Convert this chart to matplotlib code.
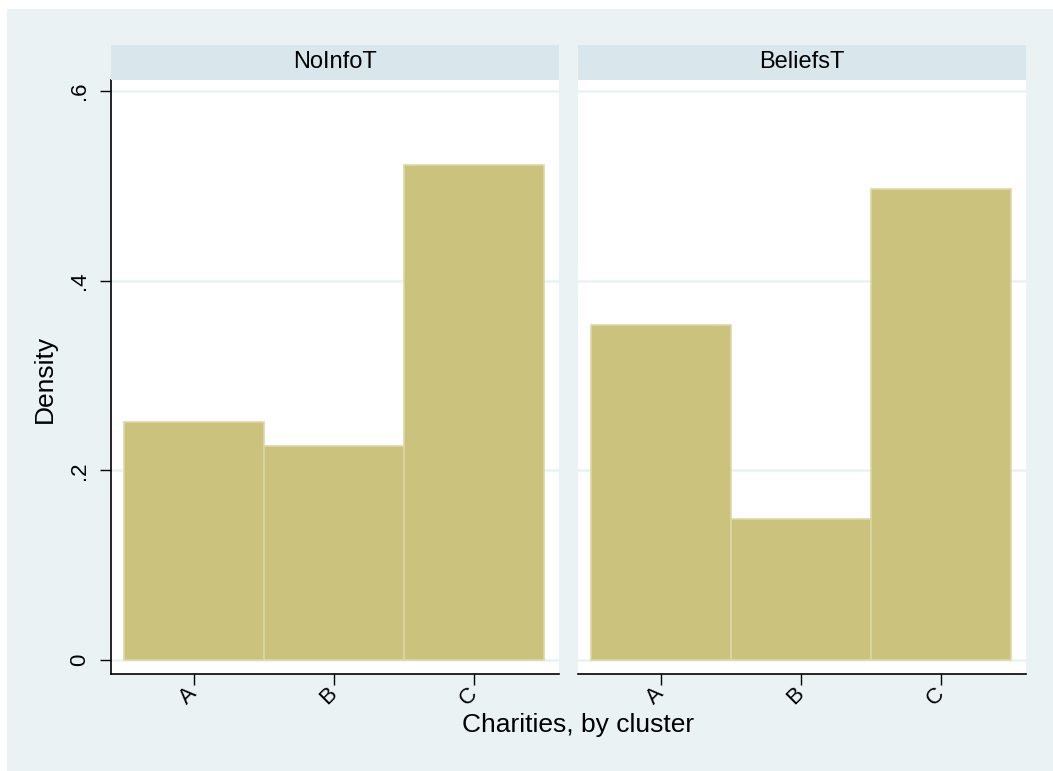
import matplotlib
matplotlib.use('Agg')
import matplotlib.pyplot as plt
from matplotlib.patches import Rectangle

plt.rcParams['font.family'] = ['Liberation Sans', 'DejaVu Sans']

panels = ['NoInfoT', 'BeliefsT']
clusters = ['A', 'B', 'C']
noinfo_density = [0.251, 0.226, 0.522]
beliefs_density = [0.353, 0.149, 0.497]
yticks = [0, 0.2, 0.4, 0.6]
ytick_labels = ['0', '.2', '.4', '.6']

bg_col = '#EAF2F3'
strip_col = '#D9E6EB'
bar_col = '#CBC27E'
bar_edge = '#DDD7A8'
grid_col = '#EAF2F3'

W, H = 1053, 771
fig = plt.figure(figsize=(W / 100, H / 100), dpi=100, facecolor='white')
fig.patches.append(Rectangle((7 / W, 0), 1 - 7 / W, (H - 9) / H, transform=fig.transFigure,
                             facecolor=bg_col, edgecolor='none', zorder=-10))

lefts = [111, 578]
pw = 448
ax_top, ax_bot = 80, 674
x = [1, 2, 3]

for i, (name, vals) in enumerate(zip(panels, [noinfo_density, beliefs_density])):
    l = lefts[i]
    ax = fig.add_axes([l / W, (H - ax_bot) / H, pw / W, (ax_bot - ax_top) / H])
    ax.set_facecolor('white')
    ax.bar(x, vals, width=1.0, color=bar_col, edgecolor=bar_edge, linewidth=1.2, zorder=3)
    ax.set_xlim(0.407, 3.607)
    ax.set_ylim(-0.0148, 0.6116)
    for yv in yticks:
        ax.axhline(yv, color=grid_col, linewidth=1.8, zorder=1)
    ax.set_yticks(yticks)
    ax.set_xticks(x)
    ax.set_xticklabels(clusters, rotation=45, ha='right', va='center', rotation_mode='anchor', fontsize=16)
    ax.tick_params(axis='x', length=8, width=1, pad=4, colors='black')
    for sp in ['top', 'right']:
        ax.spines[sp].set_visible(False)
    ax.spines['bottom'].set_linewidth(1.2)
    if i == 0:
        ax.set_yticklabels(ytick_labels, rotation=90, va='center', fontsize=16)
        ax.tick_params(axis='y', length=8, width=1, pad=7)
        ax.spines['left'].set_linewidth(1.2)
    else:
        ax.spines['left'].set_visible(False)
        ax.tick_params(axis='y', left=False, labelleft=False)
    # panel header strip
    fig.patches.append(Rectangle((l / W, (H - 80) / H), pw / W, 35 / H, transform=fig.transFigure,
                                 facecolor=strip_col, edgecolor='none'))
    fig.text((l + pw / 2) / W, (H - 62) / H, name, ha='center', va='center', fontsize=17)

fig.text(578 / W, (H - 725) / H, 'Charities, by cluster', ha='center', va='center', fontsize=19)
fig.text(45 / W, (H - 379) / H, 'Density', ha='center', va='center', rotation=90, fontsize=19)

fig.savefig('out.png', dpi=100)
